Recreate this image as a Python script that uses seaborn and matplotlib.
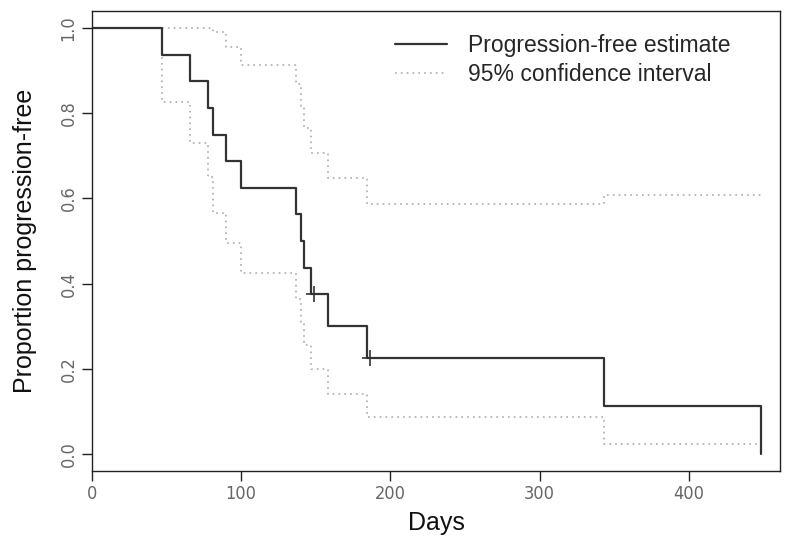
import matplotlib
matplotlib.use("Agg")
import matplotlib.pyplot as plt
import numpy as np
import pandas as pd
import seaborn as sns

# Kaplan-Meier style step data
days = [0, 47, 66, 78, 81, 90, 100, 137, 140, 142, 147, 158, 184, 343, 448]
estimate = [1.0, 0.9375, 0.875, 0.8125, 0.75, 0.6875, 0.625, 0.5625, 0.5,
            0.4375, 0.375, 0.30, 0.225, 0.1125, 0.0]
upper_ci = [1.0, 1.0, 1.0, 1.0, 0.99, 0.955, 0.913, 0.87, 0.817, 0.765,
            0.706, 0.648, 0.587, 0.608, 0.608]
lower_ci = [1.0, 0.826, 0.73, 0.65, 0.567, 0.495, 0.425, 0.365, 0.31, 0.255,
            0.20, 0.14, 0.087, 0.023, 0.023]
censor_days = [149, 186]
censor_values = [0.375, 0.225]

x_ticks = [0, 100, 200, 300, 400]
y_ticks = [0.0, 0.2, 0.4, 0.6, 0.8, 1.0]

df = pd.DataFrame({"days": days, "estimate": estimate,
                   "upper": upper_ci, "lower": lower_ci})

sns.set_style("white")
plt.rcParams['font.family'] = ['Liberation Sans', 'DejaVu Sans']

fig = plt.figure(figsize=(8, 5.58), dpi=100)
ax = fig.add_axes([0.115, 0.156, 0.86, 0.824])

sns.lineplot(data=df, x="days", y="upper", ax=ax, estimator=None, sort=False,
             drawstyle="steps-post", color="#ababab", linestyle=(0, (1, 2.5)),
             linewidth=1.2, label="95% confidence interval")
sns.lineplot(data=df, x="days", y="lower", ax=ax, estimator=None, sort=False,
             drawstyle="steps-post", color="#ababab", linestyle=(0, (1, 2.5)),
             linewidth=1.2)
sns.lineplot(data=df, x="days", y="estimate", ax=ax, estimator=None, sort=False,
             drawstyle="steps-post", color="#333333", linewidth=1.6,
             label="Progression-free estimate")
ax.plot(censor_days, censor_values, linestyle="none", marker="+",
        markersize=11, markeredgewidth=1.2, color="#333333")

ax.set_xlim(0, 461)
ax.set_ylim(-0.04, 1.04)
ax.set_xticks(x_ticks)
ax.set_yticks(y_ticks)
ax.set_xticklabels([str(t) for t in x_ticks], family="DejaVu Sans",
                   fontstretch="condensed")
ax.set_yticklabels([f"{t:.1f}" for t in y_ticks], rotation=90, va="center",
                   family="DejaVu Sans", fontstretch="condensed")
ax.tick_params(direction="out", length=7, width=1, colors="#222222",
               labelcolor="#666666", labelsize=13, left=True, bottom=True)
ax.tick_params(axis="x", pad=3)
for s in ax.spines.values():
    s.set_color("#222222")
    s.set_linewidth(1.0)

ax.set_xlabel("Days", fontsize=18, labelpad=6, color="#111111")
ax.set_ylabel("Proportion progression-free", fontsize=18, labelpad=16,
              color="#111111")

h, l = ax.get_legend_handles_labels()
order = [l.index("Progression-free estimate"), l.index("95% confidence interval")]
ax.legend([h[i] for i in order], [l[i] for i in order], frameon=False,
          loc="upper left", bbox_to_anchor=(0.44, 0.95), borderaxespad=0,
          borderpad=0, fontsize=16.5, handlelength=2.3, handletextpad=0.9,
          labelspacing=0.25)

fig.savefig("out.png", dpi=100)
